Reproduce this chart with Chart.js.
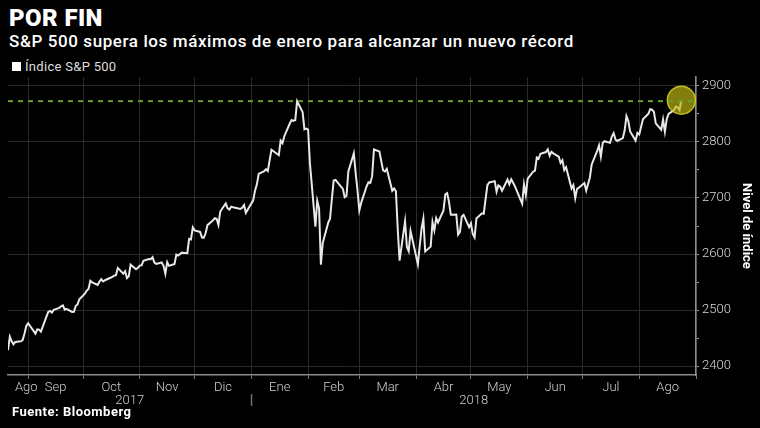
<!DOCTYPE html>
<html>
<head>
<meta charset="utf-8">
<script src="https://cdn.jsdelivr.net/npm/chart.js@4.4.1/dist/chart.umd.min.js"></script>
<style>
    html, body { margin: 0; padding: 0; background: #000; }
    body { width: 760px; height: 428px; position: relative; overflow: hidden; font-family: Roboto, "Noto Sans", sans-serif; color: #fff; }
    #title { position: absolute; left: 9px; top: 4px; font-size: 24px; font-weight: 900; letter-spacing: 0.4px; }
    #subtitle { position: absolute; left: 9px; top: 31px; font-size: 17px; font-weight: 500; letter-spacing: 0.6px; }
    #legend { position: absolute; left: 12px; top: 59px; font-size: 13px; color: #ddd; letter-spacing: 0.3px; }
    #legend .box { display: inline-block; width: 9px; height: 9px; background: #fff; margin-right: 4px; }
    #source { position: absolute; left: 12px; top: 404px; font-size: 13px; font-weight: 700; letter-spacing: 0.5px; }
    #wrap { position: absolute; left: 0; top: 0; width: 760px; height: 428px; }
</style>
</head>
<body>
<div id="title">POR FIN</div>
<div id="subtitle">S&amp;P 500 supera los máximos de enero para alcanzar un nuevo récord</div>
<div id="legend"><span class="box"></span>Índice S&amp;P 500</div>
<div id="wrap"><canvas id="chart" width="760" height="428"></canvas></div>
<div id="source">Fuente: Bloomberg</div>
<script>
// Data
const tradeDates = [
    '2017-08-21','2017-08-22','2017-08-23','2017-08-24','2017-08-25','2017-08-28','2017-08-29','2017-08-30','2017-08-31',
    '2017-09-01','2017-09-05','2017-09-06','2017-09-07','2017-09-08','2017-09-11','2017-09-12','2017-09-13','2017-09-14','2017-09-15',
    '2017-09-18','2017-09-19','2017-09-20','2017-09-21','2017-09-22','2017-09-25','2017-09-26','2017-09-27','2017-09-28','2017-09-29',
    '2017-10-02','2017-10-03','2017-10-04','2017-10-05','2017-10-06','2017-10-09','2017-10-10','2017-10-11','2017-10-12','2017-10-13',
    '2017-10-16','2017-10-17','2017-10-18','2017-10-19','2017-10-20','2017-10-23','2017-10-24','2017-10-25','2017-10-26','2017-10-27',
    '2017-10-30','2017-10-31',
    '2017-11-01','2017-11-02','2017-11-03','2017-11-06','2017-11-07','2017-11-08','2017-11-09','2017-11-10','2017-11-13','2017-11-14',
    '2017-11-15','2017-11-16','2017-11-17','2017-11-20','2017-11-21','2017-11-22','2017-11-24','2017-11-27','2017-11-28','2017-11-29',
    '2017-11-30',
    '2017-12-01','2017-12-04','2017-12-05','2017-12-06','2017-12-07','2017-12-08','2017-12-11','2017-12-12','2017-12-13','2017-12-14',
    '2017-12-15','2017-12-18','2017-12-19','2017-12-20','2017-12-21','2017-12-22','2017-12-26','2017-12-27','2017-12-28','2017-12-29',
    '2018-01-02','2018-01-03','2018-01-04','2018-01-05','2018-01-08','2018-01-09','2018-01-10','2018-01-11','2018-01-12','2018-01-16',
    '2018-01-17','2018-01-18','2018-01-19','2018-01-22','2018-01-23','2018-01-24','2018-01-25','2018-01-26','2018-01-29','2018-01-30',
    '2018-01-31',
    '2018-02-01','2018-02-02','2018-02-05','2018-02-06','2018-02-07','2018-02-08','2018-02-09','2018-02-12','2018-02-13','2018-02-14',
    '2018-02-15','2018-02-16','2018-02-20','2018-02-21','2018-02-22','2018-02-23','2018-02-26','2018-02-27','2018-02-28',
    '2018-03-01','2018-03-02','2018-03-05','2018-03-06','2018-03-07','2018-03-08','2018-03-09','2018-03-12','2018-03-13','2018-03-14',
    '2018-03-15','2018-03-16','2018-03-19','2018-03-20','2018-03-21','2018-03-22','2018-03-23','2018-03-26','2018-03-27','2018-03-28',
    '2018-03-29',
    '2018-04-02','2018-04-03','2018-04-04','2018-04-05','2018-04-06','2018-04-09','2018-04-10','2018-04-11','2018-04-12','2018-04-13',
    '2018-04-16','2018-04-17','2018-04-18','2018-04-19','2018-04-20','2018-04-23','2018-04-24','2018-04-25','2018-04-26','2018-04-27',
    '2018-04-30',
    '2018-05-01','2018-05-02','2018-05-03','2018-05-04','2018-05-07','2018-05-08','2018-05-09','2018-05-10','2018-05-11','2018-05-14',
    '2018-05-15','2018-05-16','2018-05-17','2018-05-18','2018-05-21','2018-05-22','2018-05-23','2018-05-24','2018-05-25','2018-05-29',
    '2018-05-30','2018-05-31',
    '2018-06-01','2018-06-04','2018-06-05','2018-06-06','2018-06-07','2018-06-08','2018-06-11','2018-06-12','2018-06-13','2018-06-14',
    '2018-06-15','2018-06-18','2018-06-19','2018-06-20','2018-06-21','2018-06-22','2018-06-25','2018-06-26','2018-06-27','2018-06-28',
    '2018-06-29',
    '2018-07-02','2018-07-03','2018-07-05','2018-07-06','2018-07-09','2018-07-10','2018-07-11','2018-07-12','2018-07-13','2018-07-16',
    '2018-07-17','2018-07-18','2018-07-19','2018-07-20','2018-07-23','2018-07-24','2018-07-25','2018-07-26','2018-07-27','2018-07-30',
    '2018-07-31',
    '2018-08-01','2018-08-02','2018-08-03','2018-08-06','2018-08-07','2018-08-08','2018-08-09','2018-08-10','2018-08-13','2018-08-14',
    '2018-08-15','2018-08-16','2018-08-17','2018-08-20','2018-08-21','2018-08-22','2018-08-23','2018-08-24'
];

const closes = [
    2428.37,2452.51,2444.04,2438.97,2443.05,2444.24,2446.30,2457.59,2471.65,
    2476.55,2457.85,2465.54,2465.10,2461.43,2488.11,2496.48,2498.37,2495.62,2500.23,
    2503.87,2506.65,2508.24,2500.60,2502.22,2496.66,2496.84,2507.04,2510.06,2519.36,
    2529.12,2534.58,2537.74,2552.07,2549.33,2544.73,2550.64,2555.24,2550.93,2553.17,
    2557.64,2559.36,2561.26,2562.10,2575.21,2564.98,2569.13,2557.15,2560.40,2581.07,
    2572.83,2575.26,
    2579.36,2579.85,2587.84,2591.13,2590.64,2594.38,2584.62,2582.30,2584.84,2578.87,
    2564.62,2585.64,2578.85,2582.14,2599.03,2597.08,2602.42,2601.42,2627.04,2626.07,
    2647.58,
    2642.22,2639.44,2629.57,2629.27,2636.98,2651.50,2659.99,2664.11,2662.85,2652.01,
    2675.81,2690.16,2681.47,2679.25,2684.57,2683.34,2680.50,2682.62,2687.54,2673.61,
    2695.81,2713.06,2723.99,2743.15,2747.71,2751.29,2748.23,2767.56,2786.24,2776.42,
    2802.56,2798.03,2810.30,2832.97,2839.13,2837.54,2839.25,2872.87,2853.53,2822.43,
    2823.81,
    2821.98,2762.13,2648.94,2695.14,2681.66,2581.00,2619.55,2656.00,2662.94,2698.63,
    2731.20,2732.22,2716.26,2701.33,2703.96,2747.30,2779.60,2744.28,2713.83,
    2677.67,2691.25,2720.94,2728.12,2726.80,2738.97,2786.57,2783.02,2765.31,2749.48,
    2747.33,2752.01,2712.92,2716.94,2711.93,2643.69,2588.26,2658.55,2612.62,2605.00,
    2640.87,
    2581.88,2614.45,2644.69,2662.84,2604.47,2613.16,2656.87,2642.19,2663.99,2656.30,
    2677.84,2706.39,2708.64,2693.13,2670.14,2670.29,2634.56,2639.40,2666.94,2669.91,
    2648.05,
    2654.80,2635.67,2629.73,2663.42,2672.63,2671.92,2697.79,2723.07,2727.72,2730.13,
    2711.45,2722.46,2720.13,2712.97,2733.01,2724.44,2733.29,2727.76,2721.33,2689.86,
    2724.01,2705.27,
    2734.62,2746.87,2748.80,2772.35,2770.37,2779.03,2782.00,2786.85,2775.63,2782.49,
    2779.66,2773.75,2762.59,2767.32,2749.76,2754.88,2717.07,2723.06,2699.63,2716.31,
    2718.37,
    2726.71,2713.22,2736.61,2759.82,2784.17,2793.84,2774.02,2798.29,2801.31,2798.43,
    2809.55,2815.62,2804.49,2801.83,2806.98,2820.40,2846.07,2837.44,2818.82,2802.60,
    2816.29,
    2813.36,2827.22,2840.35,2850.40,2858.45,2857.70,2853.58,2833.28,2821.93,2839.96,
    2818.37,2840.69,2850.13,2857.05,2862.96,2861.82,2856.98,2874.69
];

// January record (dashed reference line)
const januaryHigh = 2872.87;

// Axis ticks
const monthStarts = ['2017-09-01','2017-10-01','2017-11-01','2017-12-01','2018-01-01','2018-02-01',
    '2018-03-01','2018-04-01','2018-05-01','2018-06-01','2018-07-01','2018-08-01','2018-09-01'];
const monthLabels = ['Ago','Sep','Oct','Nov','Dic','Ene','Feb','Mar','Abr','May','Jun','Jul','Ago'];
const yearStarts = ['2018-01-01'];
const yearLabels = ['2017','2018'];
const yTicks = [2400, 2500, 2600, 2700, 2800, 2900];

const rangeStart = '2017-08-21';
const rangeEnd = '2018-09-01';

function dayNum(s) {
    const [y, m, d] = s.split('-').map(Number);
    return (Date.UTC(y, m - 1, d) - Date.UTC(2017, 7, 21)) / 86400000;
}

const xMin = dayNum(rangeStart);
const xMax = dayNum(rangeEnd);

// month label positions: middle of each visible month span
// (the cut first month gets its label pushed right so it stays inside)
const bounds = [xMin].concat(monthStarts.map(dayNum));
const monthCenters = monthLabels.map((_, i) => (bounds[i] + bounds[i + 1]) / 2);
monthCenters[0] = Math.max(monthCenters[0], xMin + 10);
const yBounds = [xMin].concat(yearStarts.map(dayNum), [xMax]);
const yearCenters = yearLabels.map((_, i) => (yBounds[i] + yBounds[i + 1]) / 2);

const seriesData = tradeDates.map((d, i) => ({ x: dayNum(d), y: closes[i] }));
const lastIndex = seriesData.length - 1;

const gridColor = '#2a2a2a';
const axisColor = '#8c8c8c';
const tickFont = { family: 'Roboto', size: 13, weight: '300' };

// no extra side padding for the half-width of edge labels
function noSidePad(scale) {
    scale.paddingLeft = 0;
    scale.paddingRight = 0;
}

const ctx = document.getElementById('chart').getContext('2d');
new Chart(ctx, {
    type: 'line',
    data: {
        datasets: [{
            label: 'Índice S&P 500',
            data: seriesData,
            borderColor: '#e8e8e8',
            borderWidth: 2,
            tension: 0,
            pointRadius: c => c.dataIndex === lastIndex ? 14 : 0,
            pointBackgroundColor: 'rgba(190, 185, 20, 0.68)',
            pointBorderColor: 'rgba(215, 210, 40, 0.85)',
            pointBorderWidth: 1.5,
            order: 1
        }, {
            label: 'Máximo de enero',
            data: [{ x: xMin, y: januaryHigh }, { x: xMax, y: januaryHigh }],
            borderColor: '#6c9f2a',
            borderWidth: 2,
            borderDash: [5, 5],
            pointRadius: 0,
            order: 0
        }]
    },
    options: {
        responsive: false,
        animation: false,
        layout: { autoPadding: false, padding: { left: 8, right: 6, top: 77, bottom: 19 } },
        plugins: {
            legend: { display: false },
            tooltip: { enabled: false }
        },
        scales: {
            x: {
                type: 'linear',
                position: 'bottom',
                min: xMin,
                max: xMax,
                afterBuildTicks: scale => { scale.ticks = monthStarts.map(d => ({ value: dayNum(d) })); },
                afterFit: scale => { scale.height = 4; noSidePad(scale); },
                grid: { color: gridColor, tickColor: '#777', tickLength: 4 },
                border: { color: axisColor, width: 1.5 },
                ticks: { display: false }
            },
            xMonth: {
                type: 'linear',
                position: 'bottom',
                min: xMin,
                max: xMax,
                afterBuildTicks: scale => { scale.ticks = monthCenters.map(v => ({ value: v })); },
                afterFit: scale => { scale.height = 15; noSidePad(scale); },
                grid: { display: false, drawTicks: false },
                border: { display: false },
                ticks: {
                    autoSkip: false,
                    maxRotation: 0,
                    padding: 1,
                    color: '#d0d0d0',
                    font: tickFont,
                    callback: (v, i) => monthLabels[i]
                }
            },
            xYear: {
                type: 'linear',
                position: 'bottom',
                min: xMin,
                max: xMax,
                afterBuildTicks: scale => {
                    scale.ticks = yearCenters.map(v => ({ value: v })).concat(yearStarts.map(d => ({ value: dayNum(d) })));
                },
                afterFit: scale => { scale.height = 15; noSidePad(scale); },
                grid: {
                    drawOnChartArea: false,
                    tickLength: 12,
                    tickWidth: 1.5,
                    tickColor: c => (c.index >= yearLabels.length ? '#6e6e6e' : 'rgba(0,0,0,0)')
                },
                border: { display: false },
                ticks: {
                    autoSkip: false,
                    maxRotation: 0,
                    padding: -13,
                    color: '#d0d0d0',
                    font: tickFont,
                    callback: (v, i) => (i < yearLabels.length ? yearLabels[i] : '')
                }
            },
            y: {
                type: 'linear',
                position: 'right',
                min: 2384,
                max: 2916,
                afterBuildTicks: scale => {
                    const t = [];
                    yTicks.forEach((v, i) => {
                        t.push({ value: v });
                        if (i < yTicks.length - 1) t.push({ value: (v + yTicks[i + 1]) / 2 });
                    });
                    scale.ticks = t;
                },
                afterFit: scale => { scale.width = 58; },
                grid: {
                    color: c => (c.tick && yTicks.includes(c.tick.value) ? gridColor : 'rgba(0,0,0,0)'),
                    tickColor: '#9a9a9a',
                    tickLength: 3
                },
                border: { color: axisColor, width: 1.5 },
                ticks: {
                    autoSkip: false,
                    padding: 3,
                    color: '#d8d8d8',
                    font: tickFont,
                    callback: v => (yTicks.includes(v) ? String(v) : '')
                },
                title: {
                    display: true,
                    text: 'Nivel de índice',
                    color: '#fff',
                    font: { family: 'Roboto', size: 13, weight: 'bold' },
                    padding: 0
                }
            }
        }
    }
});
</script>
</body>
</html>
